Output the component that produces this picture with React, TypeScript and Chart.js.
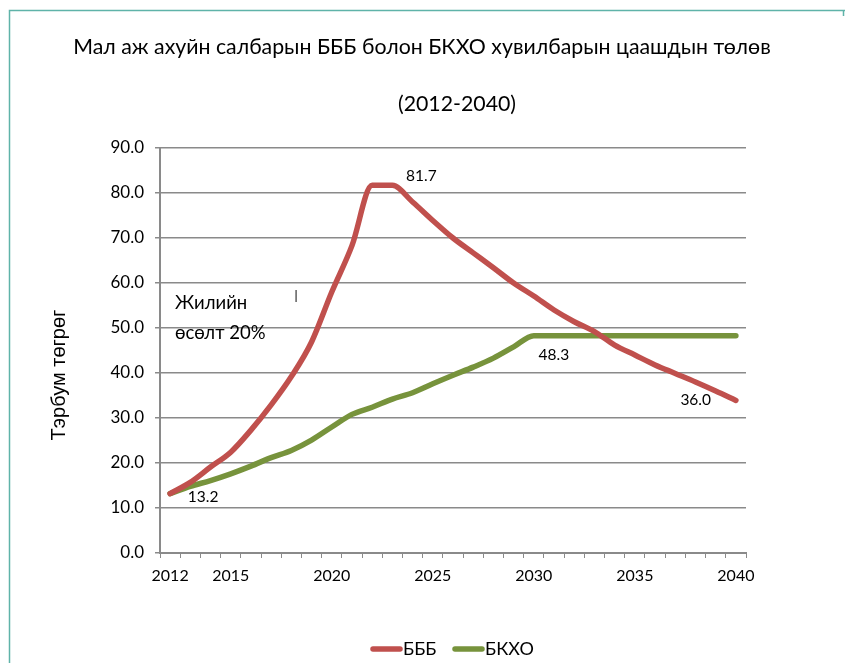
import React, { useEffect, useRef } from 'react';
import { Chart, registerables } from 'chart.js';

Chart.register(...registerables);

const years = [
  '2012', '2013', '2014', '2015', '2016', '2017', '2018', '2019', '2020', '2021',
  '2022', '2023', '2024', '2025', '2026', '2027', '2028', '2029', '2030', '2031',
  '2032', '2033', '2034', '2035', '2036', '2037', '2038', '2039', '2040',
];
const shownYearLabels = ['2012', '2015', '2020', '2025', '2030', '2035', '2040'];

const bbbValues = [
  13.2, 15.7, 19.1, 22.4, 27.3, 32.9, 39.2, 46.9, 58.0, 68.3,
  81.7, 81.7, 78.0, 73.9, 70.0, 66.7, 63.4, 60.0, 57.1, 54.0,
  51.4, 49.2, 46.2, 44.0, 41.8, 39.9, 38.0, 36.0, 33.9,
];
const bkxoValues = [
  13.2, 14.8, 16.1, 17.6, 19.3, 21.2, 22.8, 25.1, 28.0, 30.8,
  32.4, 34.2, 35.6, 37.6, 39.5, 41.3, 43.3, 45.8, 48.3, 48.3,
  48.3, 48.3, 48.3, 48.3, 48.3, 48.3, 48.3, 48.3, 48.3,
];
const seriesNames = ['БББ', 'БКХО'];
const yTicks = [0, 10, 20, 30, 40, 50, 60, 70, 80, 90];

const titleLine1 = 'Мал аж ахуйн салбарын БББ болон БКХО хувилбарын цаашдын төлөв';
const titleLine2 = '(2012-2040)';
const yAxisTitle = 'Тэрбум төгрөг';
const noteLines = ['Жилийн', 'өсөлт 20%'];

// data labels: [datasetIndex, pointIndex, dx, dy]
const dataLabels: [number, number, number, number][] = [
  [1, 0, 33, 3],
  [0, 11, 29, -9],
  [1, 18, 20, 19],
  [0, 27, -20, 9],
];

const FONT = 'Lato, "Liberation Sans", sans-serif';
const RED = '#c0504d';
const GREEN = '#77933c';
const GRID = '#8a8a8a';

export default function App() {
  const ref = useRef<HTMLCanvasElement>(null);

  useEffect(() => {
    const overlay = {
      id: 'overlay',
      afterDraw(chart: any) {
        const ctx = chart.ctx as CanvasRenderingContext2D;
        ctx.save();
        // frame
        ctx.strokeStyle = '#5fb3a9';
        ctx.lineWidth = 1.5;
        ctx.beginPath();
        ctx.moveTo(9.5, 663);
        ctx.lineTo(9.5, 10.5);
        ctx.lineTo(845, 10.5);
        ctx.moveTo(843.5, 10.5);
        ctx.lineTo(843.5, 16);
        ctx.stroke();

        ctx.fillStyle = '#000';
        ctx.textBaseline = 'middle';
        // title
        ctx.font = `21.3px ${FONT}`;
        ctx.textAlign = 'center';
        ctx.fillText(titleLine1, 422, 47);
        ctx.fillText(titleLine2, 457, 104);

        // y axis title
        ctx.save();
        ctx.translate(59, 375);
        ctx.rotate(-Math.PI / 2);
        ctx.font = '20px "Liberation Sans", Arial, sans-serif';
        ctx.fillText(yAxisTitle, 0, 0);
        ctx.restore();

        // note
        ctx.textAlign = 'left';
        ctx.font = `18.5px ${FONT}`;
        ctx.fillText(noteLines[0], 175, 303);
        ctx.fillText(noteLines[1], 175, 333);
        ctx.font = `12px "Liberation Sans", sans-serif`;
        ctx.textAlign = 'center';
        ctx.fillText('|', 296, 296);

        // data labels
        ctx.font = `15.5px ${FONT}`;
        ctx.textAlign = 'center';
        dataLabels.forEach(([di, pi, dx, dy]) => {
          const el = chart.getDatasetMeta(di).data[pi];
          const v = chart.data.datasets[di].data[pi] as number;
          ctx.fillText(v.toFixed(1), el.x + dx, el.y + dy);
        });

        // legend
        ctx.font = `18px ${FONT}`;
        ctx.textAlign = 'left';
        ctx.lineCap = 'round';
        ctx.lineWidth = 5.5;
        const legendX = [370, 452];
        chart.data.datasets.forEach((ds: any, i: number) => {
          const x = legendX[i];
          ctx.strokeStyle = ds.borderColor;
          ctx.beginPath();
          ctx.moveTo(x + 3, 649);
          ctx.lineTo(x + 30, 649);
          ctx.stroke();
          ctx.fillText(ds.label, x + 33, 649);
        });
        ctx.restore();
      },
    };

    const chart = new Chart(ref.current!, {
      type: 'line',
      data: {
        labels: years,
        datasets: [
          {
            label: seriesNames[0],
            data: bbbValues,
            borderColor: RED,
            backgroundColor: RED,
            borderWidth: 5.5,
            pointRadius: 0,
            cubicInterpolationMode: 'monotone',
            borderCapStyle: 'round',
            borderJoinStyle: 'round',
          },
          {
            label: seriesNames[1],
            data: bkxoValues,
            borderColor: GREEN,
            backgroundColor: GREEN,
            borderWidth: 5.5,
            pointRadius: 0,
            cubicInterpolationMode: 'monotone',
            borderCapStyle: 'round',
            borderJoinStyle: 'round',
          },
        ],
      },
      options: {
        responsive: false,
        animation: false,
        layout: { padding: { top: 148, left: 0, right: 99, bottom: 0 } },
        plugins: {
          legend: { display: false },
          title: { display: false },
          tooltip: { enabled: false },
        },
        scales: {
          x: {
            type: 'category',
            offset: true,
            grid: {
              offset: true,
              drawOnChartArea: false,
              tickLength: 5,
              color: GRID,
              lineWidth: 1,
            },
            border: { color: GRID, width: 2 },
            ticks: {
              autoSkip: false,
              maxRotation: 0,
              padding: 8,
              color: '#000',
              font: { family: FONT, size: 16 },
              callback: (_v: any, i: number) => (shownYearLabels.includes(years[i]) ? years[i] : ''),
            },
            afterFit: (s: any) => {
              s.height = 110;
            },
          },
          y: {
            min: yTicks[0],
            max: yTicks[yTicks.length - 1],
            grid: { color: GRID, lineWidth: 1.5, tickLength: 5 },
            border: { color: GRID, width: 2 },
            ticks: {
              stepSize: 10,
              padding: 11,
              color: '#000',
              font: { family: FONT, size: 17 },
              callback: (v: any) => Number(v).toFixed(1),
            },
            afterFit: (s: any) => {
              s.width = 160;
            },
          },
        },
      },
      plugins: [overlay],
    });
    return () => chart.destroy();
  }, []);

  return (
    <div style={{ position: 'absolute', left: 0, top: 0, width: 845, height: 663, background: '#fff' }}>
      <canvas ref={ref} width={845} height={663} style={{ width: 845, height: 663, display: 'block' }} />
    </div>
  );
}
